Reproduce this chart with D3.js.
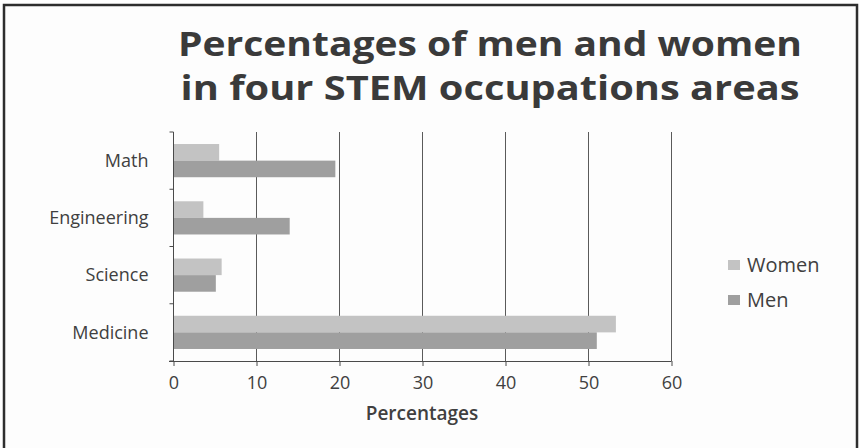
<!DOCTYPE html>
<html>
<head>
<meta charset="utf-8">
<script src="https://cdn.jsdelivr.net/npm/d3@7"></script>
<style>
  html, body { margin: 0; padding: 0; background: #ffffff; }
  svg { display: block; }
  text { font-family: "Open Sans", Lato, "DejaVu Sans", sans-serif; fill: #404040; }
</style>
</head>
<body>
<svg id="chart" width="860" height="448"></svg>
<script>
// Occupation areas, top to bottom
const categories = ["Math", "Engineering", "Science", "Medicine"];
// Series values in percent
const women = [5.5, 3.6, 5.8, 53.3];
const men = [19.5, 14, 5.1, 51];
const seriesNames = ["Women", "Men"];
const xTicks = [0, 10, 20, 30, 40, 50, 60];
const titleLines = ["Percentages of men and women", "in four STEM occupations areas"];
const xTitle = "Percentages";

const colors = { Women: "#c3c3c3", Men: "#9f9f9f" };

const svg = d3.select("#chart");

// outer frame
svg.append("rect")
  .attr("x", 4).attr("y", 5).attr("width", 853).attr("height", 460)
  .attr("fill", "#fdfdfd").attr("stroke", "#2e2e2e").attr("stroke-width", 2.5);

// title, two centred lines condensed to a common width
const titleWidths = [624, 619];
const titleBase = [56, 100];
titleLines.forEach((t, i) => {
  svg.append("text")
    .attr("x", 490).attr("y", titleBase[i])
    .attr("text-anchor", "middle")
    .attr("font-weight", "bold")
    .attr("font-size", 34)
    .attr("textLength", titleWidths[i])
    .attr("lengthAdjust", "spacingAndGlyphs")
    .style("fill", "#3a3a3a")
    .text(t);
});

const x = d3.scaleLinear().domain([0, 60]).range([173.5, 671.5]);
const y = d3.scaleBand().domain(categories).range([132, 361])
  .paddingInner(0.42).paddingOuter(0.21);
const ySub = d3.scaleBand().domain(seriesNames).range([0, y.bandwidth()]);

// vertical gridlines
svg.append("g").selectAll("line")
  .data(xTicks.slice(1))
  .join("line")
  .attr("x1", d => x(d)).attr("x2", d => x(d))
  .attr("y1", 132).attr("y2", 361)
  .attr("stroke", "#5a5a5a").attr("stroke-width", 1);

// bars
const rows = categories.map((c, i) => ({ c, values: [["Women", women[i]], ["Men", men[i]]] }));
const g = svg.append("g");
rows.forEach(r => {
  r.values.forEach(([s, v]) => {
    g.append("rect")
      .attr("x", x(0))
      .attr("y", y(r.c) + ySub(s))
      .attr("width", x(v) - x(0))
      .attr("height", ySub.bandwidth())
      .attr("fill", colors[s]);
  });
});

// x axis
const xAxis = d3.axisBottom(x).tickValues(xTicks).tickSize(5).tickPadding(10);
const gx = svg.append("g").attr("transform", "translate(0,361)").call(xAxis);
gx.select(".domain").attr("stroke", "#4a4a4a").attr("d", "M169,0.5H671.5");
gx.selectAll(".tick line").attr("stroke", "#4a4a4a");
gx.selectAll(".tick text").attr("font-size", 18)
  .style("font-family", "'Open Sans', sans-serif").style("fill", "#404040");

// y axis with boundary ticks
const gy = svg.append("g").attr("transform", `translate(${x(0)},0)`);
gy.append("line").attr("x1", 0).attr("x2", 0).attr("y1", 132).attr("y2", 361)
  .attr("stroke", "#4a4a4a");
const bounds = categories.map(c => y(c) - y.step() * y.paddingInner() / 2);
bounds.push(361);
gy.selectAll(".bt").data(bounds).join("line")
  .attr("x1", -4).attr("x2", 0)
  .attr("y1", d => d).attr("y2", d => d)
  .attr("stroke", "#4a4a4a");
gy.selectAll(".lab").data(categories).join("text")
  .attr("x", -25)
  .attr("y", d => y(d) + y.bandwidth() / 2)
  .attr("dy", "0.35em")
  .attr("text-anchor", "end")
  .attr("font-size", 18)
  .text(d => d);

// x axis title
svg.append("text")
  .attr("x", 422).attr("y", 420)
  .attr("text-anchor", "middle")
  .attr("font-weight", 600)
  .attr("font-size", 19)
  .text(xTitle);

// legend
const lg = svg.append("g");
seriesNames.forEach((s, i) => {
  const cy = 265 + i * 35;
  lg.append("rect").attr("x", 728).attr("y", cy - 5).attr("width", 12).attr("height", 10)
    .attr("fill", colors[s]);
  lg.append("text").attr("x", 747).attr("y", cy).attr("dy", "0.36em")
    .attr("font-size", 20).text(s);
});
</script>
</body>
</html>
